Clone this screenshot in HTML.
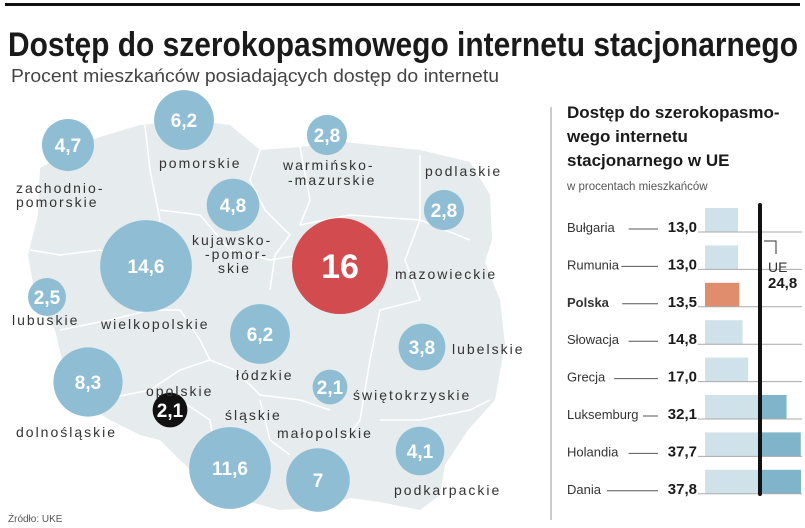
<!DOCTYPE html>
<html><head><meta charset="utf-8"><style>
html,body{margin:0;padding:0;background:#fff;}
svg{display:block;font-family:"Liberation Sans",sans-serif;}
</style></head><body>
<svg id="chart" width="805" height="528" viewBox="0 0 805 528">
<rect x="5" y="3" width="795" height="3" fill="#111"/>
<text x="8" y="56" font-size="34" font-weight="bold" fill="#1a1a1a" textLength="790" lengthAdjust="spacingAndGlyphs">Dostęp do szerokopasmowego internetu stacjonarnego</text>
<text x="11" y="82" font-size="18" fill="#444" textLength="488" lengthAdjust="spacingAndGlyphs">Procent mieszkańców posiadających dostęp do internetu</text>
<path d="M40,168 L90,140 L140,125 L190,120 L230,125 L260,150 L300,147 L345,142 L420,150 L470,162 L490,195 L492,240 L485,262 L500,300 L505,345 L495,400 L468,430 L445,465 L440,495 L420,510 L380,502 L350,498 L320,508 L280,510 L250,502 L210,488 L180,460 L160,440 L140,435 L110,420 L70,395 L62,360 L55,330 L35,295 L28,255 L38,215 Z" fill="#e6ebed"/>
<g fill="none" stroke="#fff" stroke-width="1.5">
<path d="M145,125 L150,170 L160,220 L140,260 L100,250 L60,255 L30,250"/>
<path d="M260,150 L250,180 L265,210 L290,235 L275,255 L270,290"/>
<path d="M160,210 L200,215 L230,250 L270,260 L300,255"/>
<path d="M300,147 L310,200 L300,225 L350,215 L420,220 L470,240"/>
<path d="M420,155 L420,220 L405,260 L420,300 L380,310 L370,360 L360,420 L345,440"/>
<path d="M180,310 L200,340 L210,360 L235,370 L260,395 L300,400 L330,410"/>
<path d="M60,330 L110,320 L150,310 L180,310"/>
<path d="M100,400 L150,390 L180,370 L210,360"/>
<path d="M180,400 L210,420 L215,450"/>
<path d="M380,420 L420,420 L470,410 L490,400"/>
<path d="M260,400 L270,440 L290,455"/>
</g>
<g id="circles"></g>
<g font-size="14" fill="#333" letter-spacing="2">
<text x="16" y="193">zachodnio-</text><text x="16" y="207">pomorskie</text>
<text x="159" y="168">pomorskie</text>
<text x="283" y="170">warmińsko-</text><text x="288" y="185">-mazurskie</text>
<text x="425" y="176">podlaskie</text>
<text x="192" y="245">kujawsko-</text><text x="205" y="259">-pomor-</text><text x="218" y="273">skie</text>
<text x="395" y="279">mazowieckie</text>
<text x="12" y="325">lubuskie</text>
<text x="101" y="329">wielkopolskie</text>
<text x="452" y="354">lubelskie</text>
<text x="236" y="380">łódzkie</text>
<text x="146" y="396">opolskie</text>
<text x="353" y="400">świętokrzyskie</text>
<text x="225" y="420">śląskie</text>
<text x="277" y="438">małopolskie</text>
<text x="16" y="437">dolnośląskie</text>
<text x="394" y="495">podkarpackie</text>
</g>
<text x="8" y="522" font-size="10" fill="#555">Źródło: UKE</text>
<line x1="551" y1="107" x2="551" y2="520" stroke="#999" stroke-width="1"/>
<g font-size="17" font-weight="bold" fill="#1a1a1a">
<text x="567" y="118">Dostęp do szerokopasmo-</text>
<text x="567" y="142">wego internetu</text>
<text x="567" y="166">stacjonarnego w UE</text>
</g>
<text x="567" y="190" font-size="11.5" fill="#555">w procentach mieszkańców</text>
<g id="bars"></g>
</svg>
<script>
const regionNames=["zachodniopomorskie","pomorskie","warminsko-mazurskie","kujawsko-pomorskie","podlaskie","wielkopolskie","mazowieckie","lubuskie","lodzkie","lubelskie","dolnoslaskie","opolskie","swietokrzyskie","podkarpackie","slaskie","malopolskie"];
const regionValues=[4.7,6.2,2.8,4.8,2.8,14.6,16,2.5,6.2,3.8,8.3,2.1,2.1,4.1,11.6,7];
const regionLabels=["4,7","6,2","2,8","4,8","2,8","14,6","16","2,5","6,2","3,8","8,3","2,1","2,1","4,1","11,6","7"];
const regionCx=[68,184,327,233,444,146,340,47,260,422,88,170,330,420,230,318];
const regionCy=[145,120,135,205,210,266,266,297,334,347,382,410,387,451,468,480];
const countries=["Bułgaria","Rumunia","Polska","Słowacja","Grecja","Luksemburg","Holandia","Dania"];
const euValues=[13.0,13.0,13.5,14.8,17.0,32.1,37.7,37.8];
const euAverage=24.8;
const NS="http://www.w3.org/2000/svg";
function mk(t,a,p){const e=document.createElementNS(NS,t);for(const k in a)e.setAttribute(k,a[k]);p.appendChild(e);return e;}
const rScale=v=>12*Math.sqrt(v);
const cg=document.getElementById('circles');
regionValues.forEach((v,i)=>{
  const fill=v===Math.max(...regionValues)?'#d24b4e':(i===11?'#111':'#8fbdd3');
  const c=mk('circle',{cx:regionCx[i],cy:regionCy[i],r:rScale(v),fill:fill},cg);
  
  
  const big=v>=16;
  const t=mk('text',{x:regionCx[i],y:regionCy[i]+(big?12:7),'text-anchor':'middle','font-size':big?34:19,'font-weight':'bold',fill:'#fff'},cg);
  t.textContent=regionLabels[i];
  
  
});
const bg=document.getElementById('bars');
const x0=705,sc=2.54,rowTop=208,rowH=37.4;
const xs=v=>x0+v*sc;
const xLine=xs(euAverage)-8;
euValues.forEach((v,i)=>{
  const y=rowTop+i*rowH;
  const pol=countries[i]==='Polska';
  const w=xs(v)-x0;
  const b1=mk('rect',{x:x0,y:y,width:Math.min(w,xLine-x0),height:24,fill:pol?'#e08d6e':'#cfe2ea'},bg);
  
  
  if(xs(v)>xLine){
    const b2=mk('rect',{x:xLine,y:y,width:xs(v)-xLine,height:24,fill:'#7fb4cb'},bg);
    
    
  }
  const bl=mk('line',{x1:698,y1:y+24,x2:802,y2:y+24,stroke:'#aaa','stroke-width':1},bg);
  
  
  const lt=mk('text',{x:567,y:y+24,'font-size':13,fill:'#333','font-weight':pol?'bold':'normal'},bg);
  lt.textContent=countries[i];
  
  
  const lw=countries[i].length*7.2+(pol?8:0);
  const ln=mk('line',{x1:567+lw+4,y1:y+21,x2:658,y2:y+21,stroke:'#555','stroke-width':1},bg);
  
  
  const vt=mk('text',{x:697,y:y+24,'text-anchor':'end','font-size':15,'font-weight':'bold',fill:'#1a1a1a'},bg);
  vt.textContent=v.toFixed(1).replace('.',',');
  
  
});
const av=mk('line',{x1:xLine,y1:205,x2:xLine,y2:494,stroke:'#111','stroke-width':4,'stroke-linecap':'round'},bg);


const ar=mk('path',{d:`M${xLine+4},241 L${xLine+16},241 L${xLine+16},254`,fill:'none',stroke:'#333','stroke-width':1},bg);


const ue=mk('text',{x:xLine+8,y:272,'font-size':14,fill:'#333'},bg);
ue.textContent='UE';


const uv=mk('text',{x:xLine+8,y:288,'font-size':15,'font-weight':'bold',fill:'#1a1a1a'},bg);
uv.textContent=euAverage.toFixed(1).replace('.',',');


</script>
</body></html>
